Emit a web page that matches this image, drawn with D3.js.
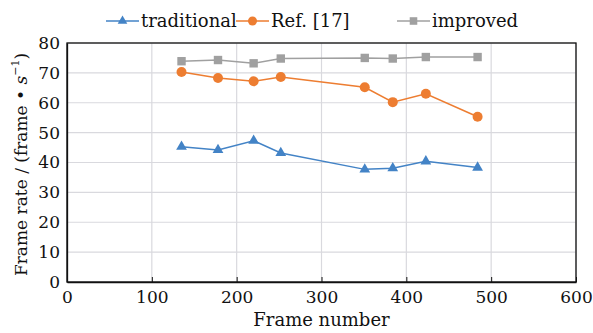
<!DOCTYPE html>
<html>
<head>
<meta charset="utf-8">
<script src="https://cdn.jsdelivr.net/npm/d3@7"></script>
<style>
  body { margin: 0; background: #fff; }
  svg text { font-family: "DejaVu Serif" !important; fill: #111; }
</style>
</head>
<body>
<div id="chart"></div>
<script>
// Data.
const frameNumbers = [135, 178, 220, 252, 351, 384, 423, 484]
const traditional = [45.3, 44.2, 47.3, 43.2, 37.7, 38.1, 40.4, 38.3]
const ref17 = [70.3, 68.3, 67.2, 68.6, 65.2, 60.2, 63.0, 55.3]
const improved = [73.9, 74.3, 73.2, 74.8, 75.0, 74.8, 75.3, 75.3]
const xTicks = [0, 100, 200, 300, 400, 500, 600]
const yTicks = [0, 10, 20, 30, 40, 50, 60, 70, 80]

const series = [
  { name: 'traditional', values: traditional, color: '#4383c6', marker: 'triangle' },
  { name: 'Ref. [17]', values: ref17, color: '#ed7d31', marker: 'circle' },
  { name: 'improved', values: improved, color: '#a0a0a0', marker: 'square' }
]

const width = 593
const height = 333
const margin = { top: 43, right: 17, bottom: 51, left: 67 }
const fontSize = 17

const svg = d3.select('#chart')
  .append('svg')
  .attr('width', width)
  .attr('height', height)

const x = d3.scaleLinear().domain([0, 600]).range([margin.left, width - margin.right])
const y = d3.scaleLinear().domain([0, 80]).range([height - margin.bottom, margin.top])

/**
 * Grid.
 */
const grid = svg.append('g').attr('class', 'grid')
grid.selectAll('line.h')
  .data(yTicks)
  .enter()
  .append('line')
  .attr('x1', x(0)).attr('x2', x(600))
  .attr('y1', d => y(d)).attr('y2', d => y(d))
  .attr('stroke', '#d9d9de')
  .attr('stroke-width', 1.2)
grid.selectAll('line.v')
  .data(xTicks)
  .enter()
  .append('line')
  .attr('y1', y(0)).attr('y2', y(80))
  .attr('x1', d => x(d)).attr('x2', d => x(d))
  .attr('stroke', '#d9d9de')
  .attr('stroke-width', 1.2)

// Frame.
svg.append('rect')
  .attr('x', x(0)).attr('y', y(80))
  .attr('width', x(600) - x(0)).attr('height', y(0) - y(80))
  .attr('fill', 'none')
  .attr('stroke', '#111')
  .attr('stroke-width', 1.3)

/**
 * Axes.
 */
const xAxis = svg.append('g')
  .attr('transform', `translate(0,${y(0)})`)
  .call(d3.axisBottom(x).tickValues(xTicks).tickSizeInner(-5).tickSizeOuter(0).tickPadding(9))
xAxis.select('.domain').attr('stroke', '#111').attr('stroke-width', 1.3)
xAxis.selectAll('.tick line').attr('stroke', '#111')
xAxis.selectAll('.tick text').attr('font-size', fontSize).attr('fill', '#111')

const yAxis = svg.append('g')
  .attr('transform', `translate(${x(0)},0)`)
  .call(d3.axisLeft(y).tickValues(yTicks).tickSizeInner(0).tickSizeOuter(0).tickPadding(7))
yAxis.select('.domain').attr('stroke', '#111').attr('stroke-width', 1.3)
yAxis.selectAll('.tick text').attr('font-size', fontSize).attr('fill', '#111')

svg.append('text')
  .attr('x', (x(0) + x(600)) / 2)
  .attr('y', 326)
  .attr('text-anchor', 'middle')
  .attr('font-size', fontSize + 1)
  .text('Frame number')

const yTitle = svg.append('text')
  .attr('transform', `translate(27,${(y(0) + y(80)) / 2 + 2}) rotate(-90)`)
  .attr('text-anchor', 'middle')
  .attr('font-size', fontSize)
yTitle.append('tspan').text('Frame rate / (frame \u2022 ')
yTitle.append('tspan').attr('font-style', 'italic').text('s')
yTitle.append('tspan').attr('font-size', 11).attr('dy', -8).text('\u22121')
yTitle.append('tspan').attr('dy', 8).text(')')

/**
 * Markers.
 */
function drawMarker(g, kind, color, size) {
  if (kind === 'circle') {
    g.append('circle').attr('r', size * 0.5).attr('fill', color)
  } else if (kind === 'square') {
    g.append('rect')
      .attr('x', -size * 0.42).attr('y', -size * 0.42)
      .attr('width', size * 0.84).attr('height', size * 0.84)
      .attr('fill', color)
  } else {
    g.append('path')
      .attr('d', d3.symbol(d3.symbolTriangle, size * size * 0.5)())
      .attr('fill', color)
  }
}

const line = d3.line()
  .x((d, i) => x(frameNumbers[i]))
  .y(d => y(d))

series.forEach(s => {
  svg.append('path')
    .datum(s.values)
    .attr('d', line)
    .attr('fill', 'none')
    .attr('stroke', s.color)
    .attr('stroke-width', 1.5)
  s.values.forEach((v, i) => {
    const g = svg.append('g').attr('transform', `translate(${x(frameNumbers[i])},${y(v)})`)
    drawMarker(g, s.marker, s.color, 10)
  })
})

/**
 * Legend.
 */
const legendPos = [106, 236, 397]
const legend = svg.append('g').attr('class', 'legend')
series.forEach((s, i) => {
  const g = legend.append('g').attr('transform', `translate(${legendPos[i]},21)`)
  g.append('line').attr('x1', 0).attr('x2', 33).attr('stroke', s.color).attr('stroke-width', 1.5)
  const m = g.append('g').attr('transform', 'translate(16.5,0)')
  drawMarker(m, s.marker, s.color, 9)
  g.append('text')
    .attr('x', 35)
    .attr('y', 6)
    .attr('font-size', fontSize + 1)
    .text(s.name)
})
</script>
</body>
</html>
